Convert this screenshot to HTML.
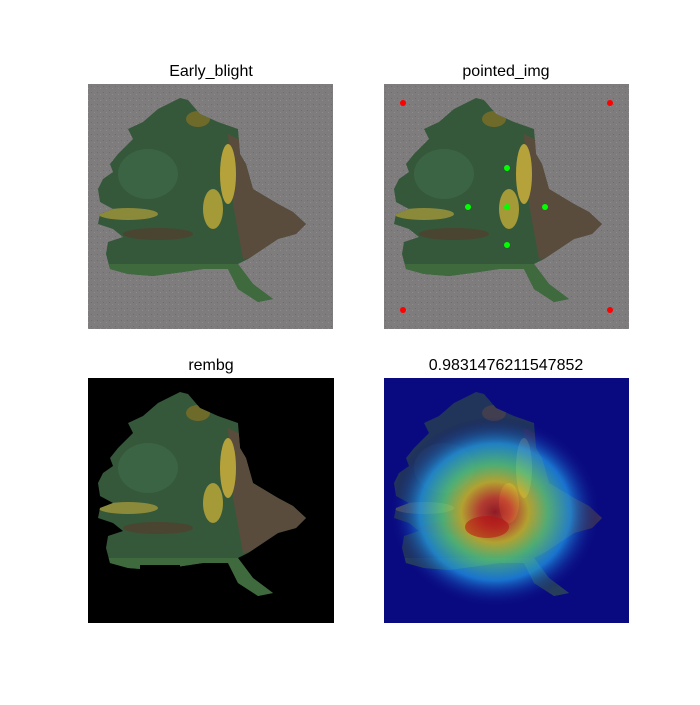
<!DOCTYPE html>
<html><head><meta charset="utf-8"><style>
body{margin:0;background:#fff;}
svg text{font-family:"Liberation Sans","DejaVu Sans",sans-serif;font-size:16px;fill:#000;}
</style></head><body>
<svg id="fig" width="700" height="700" viewBox="0 0 700 700">
<defs>
 <polygon id="leafShape" points="92,14 100,16 112,30 130,38 150,45 152,70 158,80 165,105 190,120 205,128 218,140 208,150 190,155 175,165 160,175 150,180 165,200 185,215 170,218 150,205 140,185 115,185 95,188 65,192 40,190 22,185 18,170 20,158 35,153 25,145 10,140 12,130 25,125 12,118 10,105 15,95 25,88 22,80 30,70 45,55 40,45 55,38 70,25"/>
 <clipPath id="leafClip"><use href="#leafShape"/></clipPath>
 <pattern id="concrete" width="6" height="6" patternUnits="userSpaceOnUse">
  <rect width="6" height="6" fill="#7e7c7d"/><rect x="1" y="2" width="1" height="1" fill="#6e6c6d"/><rect x="4" y="4" width="1" height="1" fill="#8e8c8d"/>
 </pattern>
 <g id="leaf">
  <use href="#leafShape" fill="#35573a"/>
  <g clip-path="url(#leafClip)">
   <polygon points="140,50 160,60 220,140 200,170 155,175 145,120" fill="#5a4c3c"/>
   <ellipse cx="140" cy="90" rx="8" ry="30" fill="#b6a23a"/>
   <ellipse cx="125" cy="125" rx="10" ry="20" fill="#a59a38"/>
   <ellipse cx="40" cy="130" rx="30" ry="6" fill="#8a8a3a"/>
   <ellipse cx="70" cy="150" rx="35" ry="6" fill="#4a4530"/>
   <ellipse cx="110" cy="35" rx="12" ry="8" fill="#6e6a2a"/>
   <ellipse cx="60" cy="90" rx="30" ry="25" fill="#3f6a48" opacity="0.7"/>
   <rect x="0" y="180" width="230" height="40" fill="#3e6a3e"/>
  </g>
 </g>
 <radialGradient id="heat" cx="0.5" cy="0.5" r="0.5">
  <stop offset="0" stop-color="#c01010"/>
  <stop offset="0.15" stop-color="#f04020"/>
  <stop offset="0.32" stop-color="#f0d020"/>
  <stop offset="0.5" stop-color="#60e080"/>
  <stop offset="0.72" stop-color="#20a0f0"/>
  <stop offset="1" stop-color="#0a0a80" stop-opacity="0"/>
 </radialGradient>
</defs>

<g>
 <text x="211" y="76" text-anchor="middle">Early_blight</text>
 <rect x="88" y="84" width="245" height="245" fill="url(#concrete)"/>
 <use href="#leaf" x="88" y="84"/>
</g>
<g>
 <text x="506" y="76" text-anchor="middle">pointed_img</text>
 <rect x="384" y="84" width="245" height="245" fill="url(#concrete)"/>
 <use href="#leaf" x="384" y="84"/>
 <g id="points"></g>
</g>
<g>
 <text x="211" y="370" text-anchor="middle">rembg</text>
 <rect x="88" y="378" width="246" height="245" fill="#000"/>
 <use href="#leaf" x="88" y="378"/>
 <rect x="140" y="565" width="40" height="15" fill="#000"/>
</g>
<g>
 <text x="506" y="370" text-anchor="middle">0.9831476211547852</text>
 <rect x="384" y="378" width="245" height="245" fill="#0a0a80"/>
 <g opacity="0.55"><use href="#leaf" x="384" y="378"/></g>
 <ellipse cx="495" cy="512" rx="105" ry="95" fill="url(#heat)" opacity="0.7"/>
 <ellipse cx="487" cy="527" rx="22" ry="11" fill="#b81010" opacity="0.55"/>
</g>
</svg>
<script>
const redX=[403,610,403,610], redY=[103,103,310,310];
const greenX=[507,468,507,545,507], greenY=[168,207,207,207,245];
const pg=document.getElementById('points');
function dot(x,y,c,n){
 const e=document.createElementNS('http://www.w3.org/2000/svg','circle');
 e.setAttribute('cx',x);e.setAttribute('cy',y);e.setAttribute('r',3);e.setAttribute('fill',c);
 
 
 pg.appendChild(e);
}
for(let i=0;i<redX.length;i++) dot(redX[i],redY[i],'#ff0000','corner-point');
for(let i=0;i<greenX.length;i++) dot(greenX[i],greenY[i],'#00ff00','leaf-point');
</script>
</body></html>
